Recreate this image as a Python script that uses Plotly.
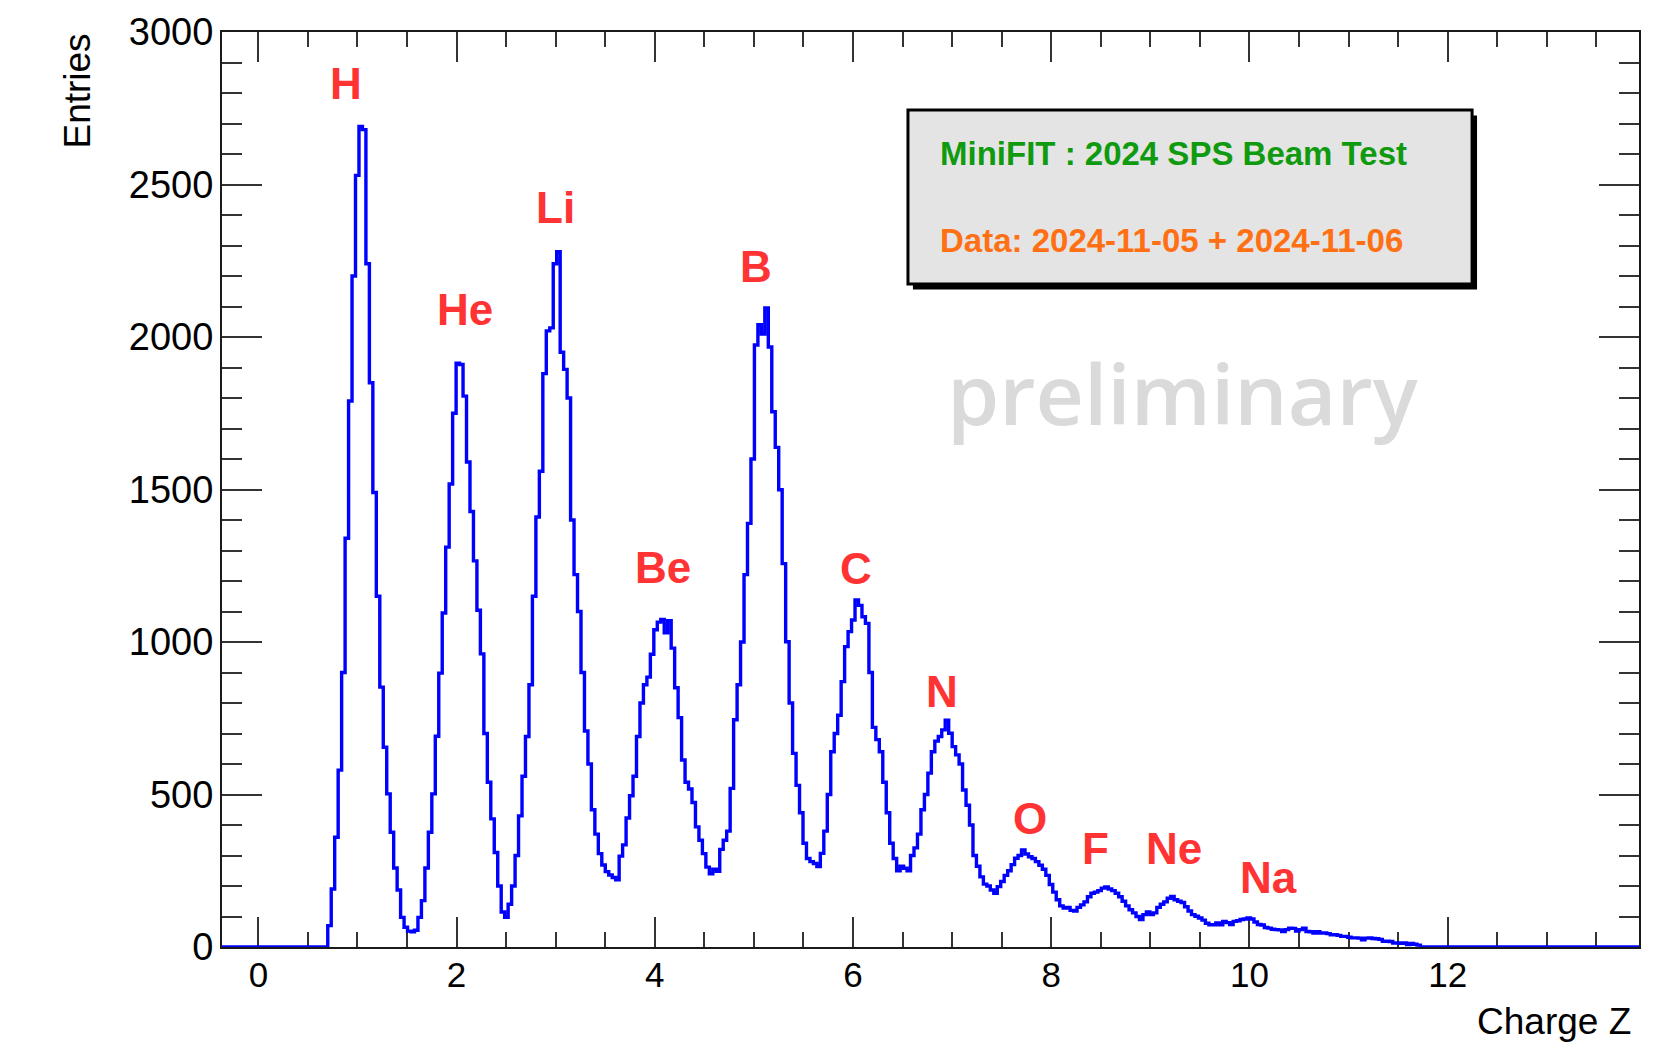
import plotly.graph_objects as go

# ---------------- data ----------------
bin_low_edge = -0.385
bin_width = 0.035

entries = [
    0, 0, 0, 0, 0, 0, 0, 0, 0, 0, 0, 0, 0, 0, 0, 0, 0, 0, 0, 0, 0, 0, 0, 0, 0, 0, 0, 0, 0, 0, 0,
    70, 190, 360, 580, 900, 1340, 1790, 2200, 2530, 2690,
    2680, 2240, 1850, 1490, 1150, 852, 655, 502, 376, 259,
    187, 97, 65, 52, 50, 55, 97, 152, 259, 376,
    502, 691, 898, 1095, 1311, 1518, 1750, 1914, 1910, 1806,
    1590, 1428, 1266, 1104, 961, 700, 540, 420, 310, 200,
    115, 97, 140, 200, 300, 430, 560, 690, 860, 1150,
    1410, 1560, 1880, 2020, 2030, 2240, 2280, 1950, 1894, 1800,
    1400, 1221, 1100, 900, 708, 600, 450, 370, 306, 269,
    247, 236, 228, 220, 298, 335, 423, 496, 560, 690,
    800, 860, 885, 960, 1040, 1065, 1074, 1030, 1070, 980,
    850, 752, 613, 540, 518, 474, 394, 350, 306, 262,
    240, 255, 248, 320, 350, 380, 520, 745, 860, 1000,
    1221, 1389, 1600, 1974, 2040, 2010, 2095, 1967, 1755, 1638,
    1499, 1257, 1001, 800, 635, 530, 440, 340, 290, 280,
    274, 264, 307, 380, 500, 640, 700, 760, 870, 985,
    1034, 1072, 1138, 1120, 1083, 1061, 900, 720, 680, 640,
    540, 440, 340, 290, 250, 265, 258, 250, 300, 325,
    370, 450, 500, 570, 640, 675, 690, 712, 744, 701,
    657, 630, 600, 515, 465, 400, 300, 265, 230, 206,
    200, 187, 176, 198, 215, 235, 250, 270, 291, 300,
    318, 305, 296, 290, 280, 268, 255, 235, 205, 180,
    155, 135, 128, 130, 120, 118, 130, 138, 148, 165,
    176, 180, 185, 193, 197, 190, 185, 176, 165, 150,
    135, 122, 112, 100, 90, 106, 115, 106, 112, 130,
    140, 148, 160, 166, 155, 150, 146, 132, 118, 106,
    101, 95, 88, 78, 73, 73, 79, 73, 84, 80,
    74, 84, 86, 90, 92, 95, 92, 82, 74, 72,
    64, 62, 58, 57, 56, 51, 57, 62, 61, 52,
    57, 62, 51, 50, 46, 50, 46, 46, 44, 40,
    40, 38, 35, 35, 32, 30, 30, 29, 24, 29,
    30, 28, 27, 25, 19, 19, 18, 13, 13, 12,
    13, 8, 12, 9, 6,
    0, 0, 0, 0, 0, 0, 0, 0, 0, 0, 0, 0, 0, 0, 0, 0,
    0, 0, 0, 0, 0, 0, 0, 0, 0, 0, 0, 0, 0, 0, 0, 0,
    0, 0, 0, 0, 0, 0, 0, 0, 0, 0, 0, 0, 0, 0, 0, 0,
    0, 0, 0, 0, 0, 0, 0, 0, 0, 0, 0, 0, 0, 0, 0, 0,
]

element_names = ["H", "He", "Li", "Be", "B", "C", "N", "O", "F", "Ne", "Na"]
element_x = [0.881, 2.082, 2.998, 4.08, 5.025, 6.027, 6.90, 7.79, 8.447, 9.236, 10.19]
element_y = [2831, 2089, 2426, 1244, 2230, 1242, 839, 422, 324, 324, 228]

x_range = [-0.367, 13.93]
y_range = [0, 3000]

x_title = "Charge Z"
y_title = "Entries"
box_line1 = "MiniFIT : 2024 SPS Beam Test"
box_line2 = "Data: 2024-11-05 + 2024-11-06"
watermark = "preliminary"

# ---------------- figure ----------------
centers = [bin_low_edge + bin_width * (i + 0.5) for i in range(len(entries))]

FONT = "Liberation Sans, Arial, Helvetica, sans-serif"

fig = go.Figure()
fig.add_trace(go.Scatter(
    x=centers, y=entries, mode="lines",
    line=dict(color="#0000ff", width=3.4, shape="hvh"),
    hoverinfo="skip", showlegend=False,
))

fig.update_layout(
    width=1676, height=1045,
    margin=dict(l=222, r=37, t=32, b=98, pad=0),
    paper_bgcolor="white", plot_bgcolor="white",
    font=dict(family=FONT, size=35, color="black"),
)

axis_common = dict(
    showgrid=False, zeroline=False, showline=True, linecolor="#1a1a1a", linewidth=2,
    mirror="ticks", ticks="inside", tickcolor="#333333", tickwidth=1.5,
)
fig.update_xaxes(
    range=x_range, tick0=0, dtick=2, ticklen=30, ticklabelstandoff=-4,
    tickfont=dict(family=FONT, size=35, color="black"),
    minor=dict(ticks="inside", tick0=0, dtick=0.5, ticklen=15, tickcolor="#333333", tickwidth=1.5),
    layer="below traces", **axis_common,
)
fig.update_yaxes(
    range=y_range, tick0=0, dtick=500, ticklen=40, ticklabelstandoff=-1,
    tickfont=dict(family=FONT, size=38, color="black"),
    minor=dict(ticks="inside", tick0=0, dtick=100, ticklen=20, tickcolor="#333333", tickwidth=1.5),
    layer="below traces", **axis_common,
)

# stats-like box with shadow
bx0, bx1, by0, by1 = 0.4841, 0.8822, 0.7246, 0.9148
fig.add_shape(type="rect", xref="paper", yref="paper",
              x0=bx0 + 0.0035, x1=bx1 + 0.0035, y0=by0 - 0.0060, y1=by1 - 0.0060,
              fillcolor="black", line=dict(width=0), layer="above")
fig.add_shape(type="rect", xref="paper", yref="paper",
              x0=bx0, x1=bx1, y0=by0, y1=by1,
              fillcolor="#e4e4e4", line=dict(color="black", width=3), layer="above")

annotations = []
for name, ex, ey in zip(element_names, element_x, element_y):
    annotations.append(dict(
        x=ex, y=ey, xref="x", yref="y", text=name, showarrow=False,
        xanchor="center", yanchor="middle",
        font=dict(family=FONT, size=44, color="#ff3333", weight="bold"),
    ))

annotations += [
    dict(x=0.5056, y=0.8667, xref="paper", yref="paper", text=box_line1, showarrow=False,
         xanchor="left", yanchor="middle",
         font=dict(family=FONT, size=33, color="#109a10", weight="bold")),
    dict(x=0.5056, y=0.7721, xref="paper", yref="paper", text=box_line2, showarrow=False,
         xanchor="left", yanchor="middle",
         font=dict(family=FONT, size=33, color="#ff7014", weight="bold")),
    dict(x=0.678, y=0.6065, xref="paper", yref="paper", text=watermark, showarrow=False,
         xanchor="center", yanchor="middle",
         font=dict(family="Open Sans, Noto Sans, sans-serif", size=84, color="#dadada", weight=600)),
    dict(x=-0.1023, y=1.0, xref="paper", yref="paper", text=y_title, showarrow=False,
         textangle=-90, xanchor="center", yanchor="top",
         font=dict(family=FONT, size=37, color="black")),
    dict(x=0.996, y=-0.0809, xref="paper", yref="paper", text=x_title, showarrow=False,
         xanchor="right", yanchor="middle",
         font=dict(family=FONT, size=37, color="black")),
]
fig.update_layout(annotations=annotations)

fig.write_html("out.html", include_plotlyjs=True, config={"displayModeBar": False},
               post_script="document.body.style.margin='0';document.body.style.overflow='hidden';")
